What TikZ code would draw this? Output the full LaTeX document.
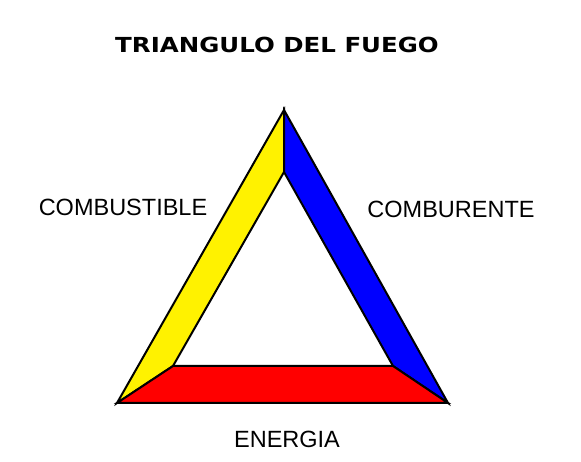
\documentclass[tikz,border=0pt]{standalone}
\usepackage{fontspec}
\usepackage{graphicx}
\setmainfont{Liberation Sans}
\newfontfamily\titlefont{DejaVu Sans}
\tikzset{side/.style={draw=black,line width=2pt,line join=miter},
  label/.style={inner sep=0pt,font=\fontsize{23.5}{28}\selectfont}}
\begin{document}
\begin{tikzpicture}[x=1pt,y=1pt]
\useasboundingbox (0,0) rectangle (581,462);
\coordinate (top) at (284,352); \coordinate (itop) at (284,290);
\coordinate (bl) at (117,59); \coordinate (ibl) at (173,96);
\coordinate (br) at (448,59); \coordinate (ibr) at (393,96);
\draw[side,fill=yellow] (top) -- (itop) -- (ibl) -- (bl) -- cycle;
\draw[side,fill=blue] (top) -- (br) -- (ibr) -- (itop) -- cycle;
\draw[side,fill=red] (bl) -- (br) -- (ibr) -- (ibl) -- cycle;
\node[inner sep=0pt] (title) at (277,417) {\scalebox{1.36}[1.15]{\titlefont\bfseries\fontsize{18}{20}\selectfont TRIANGULO DEL FUEGO}};
\node[label] (fuel) at (123,255) {COMBUSTIBLE};
\node[label] (oxid) at (451,253) {COMBURENTE};
\node[label] (heat) at (287,23) {ENERGIA};
\end{tikzpicture}
\end{document}
